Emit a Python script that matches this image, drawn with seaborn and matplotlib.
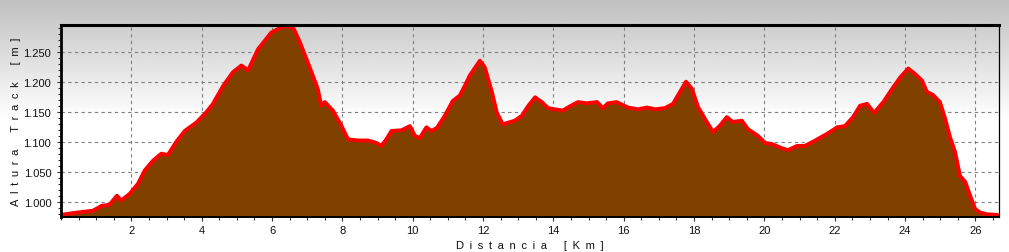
import numpy as np
import pandas as pd
import matplotlib
matplotlib.use("Agg")
import matplotlib.pyplot as plt
import seaborn as sns

# ---- data ----
distance_km = [0.0, 0.34, 0.62, 0.91, 1.15, 1.38, 1.59, 1.71, 1.95, 2.19, 2.38, 2.61, 2.85,
               3.04, 3.28, 3.52, 3.85, 4.13, 4.32, 4.61, 4.89, 5.13, 5.32, 5.6, 5.98, 6.27,
               6.45, 6.62, 6.79, 7.07, 7.3, 7.4, 7.5, 7.73, 7.97, 8.16, 8.45, 8.73, 8.97,
               9.11, 9.25, 9.4, 9.68, 9.92, 10.06, 10.2, 10.39, 10.53, 10.69, 10.91, 11.14,
               11.34, 11.48, 11.62, 11.91, 12.05, 12.25, 12.39, 12.56, 12.9, 13.1, 13.29,
               13.48, 13.67, 13.85, 14.04, 14.27, 14.47, 14.7, 14.95, 15.24, 15.41, 15.55,
               15.8, 16.12, 16.4, 16.66, 16.89, 17.17, 17.4, 17.6, 17.77, 17.94, 18.11,
               18.31, 18.54, 18.74, 18.93, 19.1, 19.36, 19.53, 19.81, 20.02, 20.22, 20.5,
               20.67, 20.93, 21.15, 21.38, 21.78, 22.07, 22.29, 22.52, 22.72, 22.92, 23.12,
               23.38, 23.63, 23.86, 24.09, 24.28, 24.48, 24.62, 24.79, 24.99, 25.14, 25.28,
               25.42, 25.56, 25.71, 25.85, 25.99, 26.13, 26.33, 26.62]
altitude_m = [979, 982, 984, 986, 994, 996, 1011, 1003, 1014, 1031, 1053, 1069, 1081,
              1079, 1101, 1119, 1133, 1150, 1164, 1194, 1217, 1228, 1220, 1255, 1283, 1292,
              1294, 1289, 1267, 1225, 1189, 1161, 1167, 1153, 1128, 1105, 1103, 1103, 1099,
              1094, 1105, 1119, 1120, 1127, 1111, 1107, 1125, 1119, 1124, 1144, 1169,
              1178, 1194, 1211, 1236, 1225, 1184, 1150, 1130, 1136, 1144, 1161,
              1175, 1167, 1157, 1155, 1153, 1160, 1167, 1165, 1167, 1157, 1165,
              1167, 1158, 1155, 1158, 1155, 1157, 1164, 1184, 1201, 1189, 1159,
              1139, 1117, 1128, 1142, 1134, 1136, 1122, 1111, 1099, 1097, 1090,
              1087, 1094, 1094, 1101, 1114, 1125, 1127, 1142, 1161, 1164, 1149,
              1167, 1189, 1208, 1223, 1214, 1203, 1184, 1179, 1167, 1139, 1108,
              1084, 1044, 1034, 1011, 989, 983, 980, 979]

x_ticks = [2, 4, 6, 8, 10, 12, 14, 16, 18, 20, 22, 24, 26]
x_tick_labels = ["2", "4", "6", "8", "10", "12", "14", "16", "18", "20", "22", "24", "26"]
y_ticks = [1000, 1050, 1100, 1150, 1200, 1250]
y_tick_labels = ["1.000", "1.050", "1.100", "1.150", "1.200", "1.250"]
x_label_words = ["Distancia", "[Km]"]
y_label_words = ["Altura", "Track", "[m]"]

EN = "\u2002"


def spaced(words):
    return (EN * 3).join(EN.join(w) for w in words)


df = pd.DataFrame({"km": distance_km, "alt": altitude_m})

# ---- styling ----
sns.set_style("white")
plt.rcParams["font.family"] = ["Liberation Sans", "DejaVu Sans"]

W, H = 1009, 253
fig = plt.figure(figsize=(W / 100, H / 100), dpi=100)

# figure background gradient (gray top -> white)
bg = fig.add_axes([0, 0, 1, 1], zorder=-10)
rows = np.arange(H)
shade = np.clip(0.75 + 0.25 * rows / 120.0, 0, 1)
grad = np.repeat(shade[:, None], 2, axis=1)
bg.imshow(grad, cmap="gray", vmin=0, vmax=1, aspect="auto", extent=[0, 1, 0, 1],
          origin="upper", interpolation="bilinear")
bg.axis("off")

left, right = 61 / W, 999 / W
bottom, top = 1 - 218 / H, 1 - 25.7 / H
ax = fig.add_axes([left, bottom, right - left, top - bottom])
ax.set_facecolor("none")

ymin, ymax = 975.5, 1296
ax.fill_between(df["km"], df["alt"], ymin - 50, color="#804000", zorder=2, linewidth=0)
sns.lineplot(data=df, x="km", y="alt", ax=ax, color="#ff0000", linewidth=2.8, zorder=3,
             sort=False)

ax.set_xlim(0, 26.67)
ax.set_ylim(ymin, ymax)

ax.set_xticks(x_ticks)
ax.set_xticklabels(x_tick_labels)
ax.set_xticks(np.arange(0, 26.7, 0.5), minor=True)
ax.set_yticks(y_ticks)
ax.set_yticklabels(y_tick_labels)
ax.set_yticks(np.arange(980, 1296, 10), minor=True)

ax.tick_params(axis="both", which="major", direction="out", length=3, width=0.8,
               color="#333333", labelsize=8, labelcolor="#111111", pad=4)
ax.tick_params(axis="x", which="major", pad=3)
ax.tick_params(axis="both", which="minor", direction="out", length=2.5, width=0.8,
               color="#333333")
ax.tick_params(bottom=True, left=True, which="both")

ax.grid(True, which="major", color="#808080", linestyle=(0, (3, 3)), linewidth=0.8,
        zorder=1)
ax.set_axisbelow(True)

for side, lw in (("top", 2.2), ("left", 2.0), ("bottom", 1.4), ("right", 0.9)):
    ax.spines[side].set_visible(True)
    ax.spines[side].set_color("black")
    ax.spines[side].set_linewidth(lw)
    ax.spines[side].set_zorder(5)

ax.set_xlabel(spaced(x_label_words), fontsize=8, color="#111111")
ax.set_ylabel(spaced(y_label_words), fontsize=8, color="#111111")
ax.xaxis.set_label_coords(0.5, -0.118)
ax.yaxis.set_label_coords(-0.0426, 0.5)

fig.savefig("out.png", dpi=100)
